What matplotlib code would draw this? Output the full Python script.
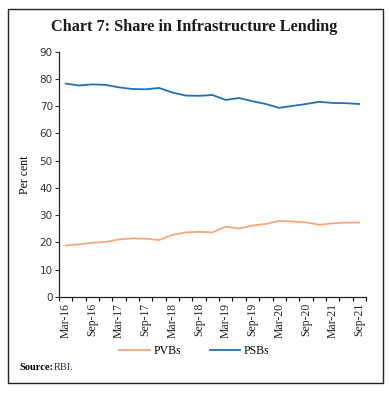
import matplotlib
matplotlib.use('Agg')
import numpy as np
import matplotlib.pyplot as plt
from matplotlib.patches import Rectangle

quarters = ['Mar-16', 'Jun-16', 'Sep-16', 'Dec-16', 'Mar-17', 'Jun-17', 'Sep-17', 'Dec-17',
            'Mar-18', 'Jun-18', 'Sep-18', 'Dec-18', 'Mar-19', 'Jun-19', 'Sep-19', 'Dec-19',
            'Mar-20', 'Jun-20', 'Sep-20', 'Dec-20', 'Mar-21', 'Jun-21', 'Sep-21']
pvbs = [18.9, 19.3, 19.9, 20.2, 21.1, 21.5, 21.4, 20.9, 22.8, 23.7, 23.9,
        23.7, 25.8, 25.1, 26.2, 26.8, 27.9, 27.7, 27.4, 26.5, 27.0, 27.3, 27.3]
psbs = [78.3, 77.6, 78.0, 77.8, 76.9, 76.3, 76.2, 76.7, 75.0, 73.9, 73.8,
        74.1, 72.3, 73.0, 71.8, 70.8, 69.4, 70.1, 70.8, 71.6, 71.2, 71.1, 70.8]

col_pvb = '#F5A77E'
col_psb = '#2070B4'
serif = 'Liberation Serif'

fig = plt.figure(figsize=(3.89, 3.93), dpi=100)
ax = fig.add_axes([0.1517, 0.2443, 0.789, 0.6242])

x = np.arange(len(quarters))
ax.plot(x, pvbs, color=col_pvb, lw=1.3, label='PVBs')
ax.plot(x, psbs, color=col_psb, lw=1.3, label='PSBs')

ax.set_xlim(-0.5, len(quarters) - 0.5)
ax.set_ylim(0, 90)
ax.set_yticks(range(0, 91, 10))
ax.tick_params(axis='y', length=3, width=0.8, labelsize=7.5, pad=1.5, colors='#333333')

# ticks at category boundaries, labels at every other category
ax.set_xticks(np.arange(-0.5, len(quarters), 1.0))
ax.set_xticklabels([])
ax.set_xticks(x[::2], minor=True)
ax.set_xticklabels(quarters[::2], minor=True, rotation=90, fontsize=8.5, family=serif)
ax.tick_params(axis='x', which='major', length=3, width=0.8)
ax.tick_params(axis='x', which='minor', length=0, pad=4, colors='#222222')

for s in ['top', 'right']:
    ax.spines[s].set_visible(False)
for s in ['left', 'bottom']:
    ax.spines[s].set_linewidth(0.9)
    ax.spines[s].set_color('#222222')

ax.set_ylabel('Per cent', family=serif, fontsize=8.5, labelpad=6)

fig.text(0.5, 0.931, 'Chart 7: Share in Infrastructure Lending', ha='center', va='center',
         family=serif, fontweight='bold', fontsize=11.7, color='#1a1a1a')

fig.legend(loc='center', bbox_to_anchor=(0.5, 0.107), ncol=2, frameon=False,
           prop={'family': serif, 'size': 8.5}, handlelength=2.6, columnspacing=2.4,
           handletextpad=0.3)

fig.text(0.049, 0.066, 'Source:', family=serif, fontweight='bold', fontsize=7.5, va='center')
fig.text(0.139, 0.066, 'RBI.', family=serif, fontsize=7.5, va='center', color='#1f2a5a')

fig.patches.append(Rectangle((8 / 389, 1 - 382.7 / 393), 374.7 / 389, 373.4 / 393,
                             transform=fig.transFigure, fill=False, lw=1.0, ec='#222222'))

plt.savefig('out.png', dpi=100)
